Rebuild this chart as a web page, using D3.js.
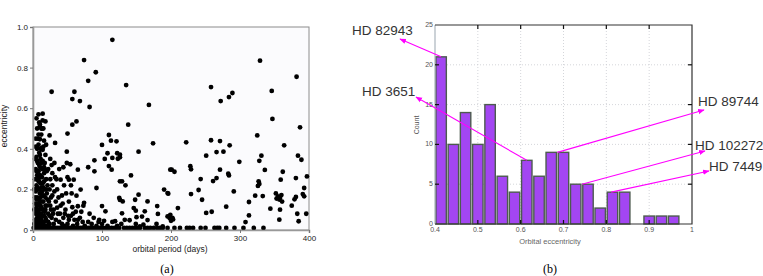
<!DOCTYPE html>
<html>
<head>
<meta charset="utf-8">
<script src="https://cdn.jsdelivr.net/npm/d3@7"></script>
<style>
  body { margin: 0; background: #fff; }
  svg { display: block; font-family: "Liberation Sans", Arial, sans-serif; }
</style>
</head>
<body>
<svg id="chart" width="763" height="276"></svg>
<script>
// (a) orbital period (days) vs eccentricity
var scatterPoints = [
  [115, 0.937], [74, 0.837], [91, 0.777], [80, 0.735], [135, 0.714], [27, 0.681],
  [60, 0.681], [57, 0.645], [68, 0.635], [168, 0.616], [82, 0.606], [14, 0.573],
  [18, 0.535], [63, 0.535], [57, 0.519], [138, 0.519], [10, 0.51], [13, 0.5],
  [329, 0.834], [382, 0.755], [258, 0.704], [346, 0.685], [289, 0.675], [284, 0.655],
  [272, 0.635], [347, 0.547], [387, 0.506], [325, 0.466], [222, 0.432], [258, 0.442],
  [271, 0.438], [285, 0.417], [364, 0.417], [266, 0.384], [276, 0.386], [251, 0.366],
  [331, 0.366], [384, 0.366], [389, 0.346], [328, 0.341], [299, 0.336], [228, 0.314],
  [229, 0.299], [201, 0.297], [205, 0.287], [336, 0.296], [271, 0.297], [362, 0.287],
  [283, 0.277], [284, 0.269], [266, 0.256], [261, 0.241], [243, 0.251], [381, 0.256],
  [397, 0.264], [359, 0.248], [327, 0.24], [328, 0.227], [326, 0.217], [240, 0.197],
  [291, 0.19], [393, 0.207], [196, 0.179], [229, 0.177], [322, 0.169], [333, 0.167],
  [352, 0.18], [355, 0.165], [353, 0.155], [357, 0.15], [360, 0.172], [361, 0.14],
  [358, 0.158], [391, 0.177], [393, 0.166], [379, 0.151], [381, 0.163], [375, 0.12],
  [245, 0.149], [313, 0.138], [280, 0.115], [344, 0.105], [358, 0.1], [210, 0.108],
  [259, 0.09], [251, 0.084], [313, 0.072], [383, 0.08], [396, 0.08], [199, 0.075],
  [202, 0.06], [198, 0.066], [203, 0.052], [200, 0.045], [308, 0.039], [357, 0.051],
  [385, 0.043], [213, 0.01], [223, 0.01], [227, 0.01], [232, 0.01], [243, 0.01],
  [250, 0.01], [263, 0.01], [267, 0.01], [270, 0.01], [280, 0.01], [292, 0.01],
  [305, 0.01], [320, 0.01], [334, 0.01],
  [110, 0.468], [50, 0.475], [24, 0.466], [113, 0.44], [121, 0.437], [10, 0.447],
  [32, 0.429], [100, 0.419], [174, 0.427], [11, 0.4], [13, 0.405], [14, 0.395],
  [49, 0.386], [153, 0.386], [108, 0.378], [122, 0.378], [126, 0.371], [126, 0.358],
  [123, 0.351], [104, 0.35], [115, 0.355], [89, 0.343], [49, 0.33], [44, 0.309],
  [54, 0.324], [80, 0.309], [89, 0.289], [110, 0.315], [114, 0.297], [65, 0.297],
  [142, 0.269], [199, 0.297], [40, 0.248], [52, 0.248], [59, 0.248], [55, 0.22],
  [126, 0.24], [129, 0.24], [134, 0.22], [92, 0.207], [69, 0.199], [190, 0.199],
  [195, 0.182], [153, 0.174], [63, 0.169], [125, 0.158], [126, 0.148], [130, 0.141],
  [148, 0.149], [166, 0.141], [74, 0.134], [73, 0.12], [65, 0.117], [57, 0.112],
  [100, 0.118], [146, 0.108], [149, 0.095], [180, 0.118], [162, 0.092], [129, 0.082],
  [105, 0.092], [181, 0.079], [195, 0.067], [198, 0.059], [96, 0.05], [103, 0.045],
  [119, 0.043], [133, 0.05], [140, 0.048], [150, 0.063], [158, 0.066], [166, 0.049],
  [46, 0.08], [51, 0.07], [65, 0.05], [72, 0.04], [149, 0.03], [155, 0.018],
  [160, 0.026], [179, 0.03], [188, 0.018],
  [5, 0.55], [8, 0.57], [10, 0.52], [6, 0.5], [12, 0.5], [15, 0.5], [9, 0.53],
  [14, 0.54], [7, 0.45], [4, 0.45], [8, 0.42], [12, 0.4], [6, 0.4], [15, 0.41],
  [9, 0.38], [5, 0.36], [11, 0.35], [14, 0.34], [7, 0.33], [10, 0.31], [13, 0.3],
  [4, 0.3], [8, 0.29], [16, 0.28], [6, 0.27], [11, 0.26], [3, 0.25], [9, 0.24],
  [14, 0.23], [5, 0.22], [12, 0.21], [7, 0.2], [17, 0.2], [4, 0.19], [10, 0.18],
  [15, 0.17], [6, 0.16], [8, 0.15], [13, 0.14], [3, 0.13], [11, 0.12], [18, 0.12],
  [5, 0.11], [9, 0.1], [14, 0.1], [7, 0.09], [4, 0.08], [12, 0.08], [16, 0.07],
  [6, 0.06], [10, 0.06], [3, 0.05], [8, 0.04], [13, 0.04], [5, 0.03], [11, 0.02],
  [3, 0.01], [7, 0.01], [15, 0.01], [20, 0.02], [19, 0.05], [22, 0.08], [18, 0.1],
  [21, 0.15], [20, 0.18], [24, 0.2], [19, 0.25], [22, 0.3], [17, 0.33], [18, 0.37],
  [25, 0.12], [27, 0.06], [26, 0.16], [28, 0.22], [30, 0.1], [30, 0.03], [33, 0.14],
  [35, 0.2], [32, 0.26], [36, 0.08], [38, 0.04], [40, 0.12], [42, 0.17], [44, 0.06],
  [47, 0.1], [50, 0.03], [52, 0.14], [55, 0.07], [58, 0.02], [60, 0.05], [62, 0.09],
  [25, 0.35], [28, 0.28], [31, 0.33], [3, 0.35], [2, 0.2], [2, 0.1], [2, 0.03],
  [34, 0.25], [38, 0.3], [45, 0.22], [48, 0.18], [43, 0.13], [37, 0.16], [56, 0.18],
  [50, 0.26], [16, 0.44], [12, 0.47], [19, 0.42], [17, 0.3], [20, 0.12],
  [6, 0.34], [9, 0.32], [12, 0.33], [16, 0.31], [5, 0.29], [10, 0.27], [13, 0.26],
  [7, 0.25], [16, 0.24], [11, 0.23], [6, 0.21], [9, 0.2], [13, 0.19], [18, 0.16],
  [11, 0.16], [5, 0.15], [15, 0.14], [8, 0.13], [12, 0.11], [16, 0.1], [6, 0.09],
  [10, 0.08], [14, 0.07], [18, 0.06], [7, 0.05], [12, 0.05], [16, 0.04], [22, 0.04],
  [9, 0.03], [14, 0.025], [18, 0.02], [24, 0.03], [26, 0.1], [23, 0.14], [28, 0.17],
  [25, 0.25], [21, 0.22], [29, 0.08], [33, 0.05], [35, 0.11], [39, 0.08], [42, 0.03],
  [24, 0.07], [31, 0.19], [27, 0.32], [10, 0.37], [4, 0.41], [8, 0.47], [3, 0.16],
  [4, 0.04], [6, 0.12], [8, 0.07], [10, 0.14], [13, 0.17], [15, 0.21], [8, 0.24],
  [19, 0.2], [17, 0.09], [20, 0.29],
  [45, 0.02], [52, 0.05], [58, 0.08], [64, 0.03], [68, 0.06], [75, 0.02], [80, 0.04],
  [85, 0.03], [88, 0.06], [92, 0.02], [70, 0.09], [82, 0.08], [95, 0.04], [100, 0.03],
  [108, 0.02], [115, 0.04], [122, 0.02], [128, 0.03],
  [1, 0.0], [4, 0.0], [9, 0.0], [13, 0.0], [18, 0.0], [24, 0.0], [30, 0.0], [36, 0.01],
  [42, 0.0], [48, 0.01], [54, 0.0], [60, 0.01], [66, 0.0], [72, 0.01], [78, 0.0],
  [84, 0.01], [90, 0.0], [96, 0.01], [102, 0.0], [110, 0.01], [118, 0.0], [125, 0.01],
  [132, 0.0], [140, 0.01], [148, 0.0], [155, 0.01], [162, 0.0], [170, 0.01], [180, 0.0],
  [188, 0.01], [195, 0.0], [205, 0.01], [7, 0.0], [21, 0.0], [27, 0.0], [33, 0.0],
  [39, 0.0], [45, 0.0], [51, 0.0], [57, 0.0], [63, 0.0], [69, 0.0], [75, 0.0],
  [81, 0.0], [87, 0.0], [93, 0.0], [99, 0.0], [106, 0.0], [114, 0.0], [121, 0.0],
  [136, 0.0], [144, 0.0], [151, 0.0], [166, 0.0], [175, 0.0], [184, 0.0]
];
var periodTicks = [0, 100, 200, 300, 400];
var eccTicks = [0, 0.2, 0.4, 0.6, 0.8, 1.0];

// (b) histogram of orbital eccentricity
var binStarts = [0.4, 0.4286, 0.4571, 0.4857, 0.5143, 0.5429, 0.5714, 0.6, 0.6286, 0.6571,
  0.6857, 0.7143, 0.7429, 0.7714, 0.8, 0.8286, 0.8571, 0.8857, 0.9143, 0.9429, 0.9714];
var binWidth = 0.02857;
var binCounts = [21, 10, 14, 10, 15, 6, 4, 8, 6, 9, 9, 5, 5, 2, 4, 4, 0, 1, 1, 1, 0];
var countTicks = [0, 5, 10, 15, 20, 25];
var histTicks = [0.4, 0.5, 0.6, 0.7, 0.8, 0.9, 1];

// which star points at which bar (bin start, count)
var starNames = ["HD 82943", "HD 3651", "HD 89744", "HD 102272", "HD 7449"];
var starBins = [0.4, 0.6, 0.6857, 0.7429, 0.8];
var starCounts = [21, 8, 9, 5, 4];

var svg = d3.select("#chart");

// ---------- panel (a) ----------
var x1 = d3.scaleLinear().domain([0, 400]).range([33, 309]);
var y1 = d3.scaleLinear().domain([0, 1]).range([230, 27]);

svg.append("rect")
  .attr("x", x1(0)).attr("y", y1(1))
  .attr("width", x1(400) - x1(0)).attr("height", y1(0) - y1(1))
  .attr("fill", "#fbfbfd").attr("stroke", "#8c8c8c").attr("stroke-width", 1);

svg.append("g").selectAll("circle")
  .data(scatterPoints)
  .join("circle")
  .attr("cx", d => x1(d[0]))
  .attr("cy", d => Math.min(y1(d[1]), y1(0) - 2))
  .attr("r", 2.4)
  .attr("fill", "#000");

var ax1 = svg.append("g")
  .attr("transform", "translate(0," + y1(0) + ")")
  .call(d3.axisBottom(x1).tickValues(periodTicks).tickSize(3).tickPadding(2));
var ay1 = svg.append("g")
  .attr("transform", "translate(" + x1(0) + ",0)")
  .call(d3.axisLeft(y1).tickValues(eccTicks).tickSize(3).tickPadding(2)
    .tickFormat(d => d === 0 ? "0" : d3.format(".1f")(d)));
[ax1, ay1].forEach(function (a) {
  a.select(".domain").attr("stroke", "#999").attr("stroke-width", 1.6);
  a.selectAll(".tick line").attr("stroke", "#777");
  a.selectAll("text").attr("font-size", 8).attr("fill", "#222")
    .attr("font-family", "Liberation Sans, Arial, sans-serif");
});

svg.append("text")
  .attr("x", 170).attr("y", 252)
  .attr("text-anchor", "middle").attr("font-size", 8.5).attr("fill", "#222")
  .text("orbital period (days)");
svg.append("text")
  .attr("transform", "translate(7,126) rotate(-90)")
  .attr("text-anchor", "middle").attr("font-size", 8.5).attr("fill", "#222")
  .text("eccentricity");
svg.append("text")
  .attr("x", 167).attr("y", 273)
  .attr("text-anchor", "middle").attr("font-size", 12)
  .attr("font-family", "Liberation Serif, Times New Roman, serif")
  .text("(a)");

// ---------- panel (b) ----------
var x2 = d3.scaleLinear().domain([0.4, 1]).range([435, 692]);
var y2 = d3.scaleLinear().domain([0, 25]).range([224, 25]);

var grid = svg.append("g").attr("stroke", "#c9ccd0").attr("stroke-dasharray", "1,2")
  .attr("stroke-width", 0.8);
grid.selectAll("line.h")
  .data(countTicks.slice(1, -1))
  .join("line").attr("class", "h")
  .attr("x1", x2(0.4)).attr("x2", x2(1))
  .attr("y1", d => y2(d)).attr("y2", d => y2(d));
grid.selectAll("line.v")
  .data(histTicks.slice(1, -1))
  .join("line").attr("class", "v")
  .attr("y1", y2(0)).attr("y2", y2(25))
  .attr("x1", d => x2(d)).attr("x2", d => x2(d));

svg.append("g").selectAll("rect")
  .data(binStarts.map((b, i) => ({ start: b, count: binCounts[i] })).filter(d => d.count > 0))
  .join("rect")
  .attr("x", d => x2(d.start) + 0.9)
  .attr("width", d => x2(d.start + binWidth) - x2(d.start) - 1.8)
  .attr("y", d => y2(d.count))
  .attr("height", d => y2(0) - y2(d.count))
  .attr("fill", "#a346f2")
  .attr("stroke", "#4d5b4f")
  .attr("stroke-width", 1.4);

// frame: light left side, dark top / right / bottom
svg.append("line")
  .attr("x1", x2(0.4)).attr("x2", x2(0.4)).attr("y1", y2(0)).attr("y2", y2(25))
  .attr("stroke", "#aab4bd").attr("stroke-width", 1.2);
svg.append("path")
  .attr("d", "M" + x2(0.4) + "," + y2(25) + "H" + x2(1) + "V" + y2(0) + "H" + x2(0.4))
  .attr("fill", "none").attr("stroke", "#333").attr("stroke-width", 1.2);

// inward tick marks on all four sides
var tk = svg.append("g").attr("stroke", "#111").attr("stroke-width", 1.2);
histTicks.slice(1, -1).forEach(function (t) {
  tk.append("line").attr("x1", x2(t)).attr("x2", x2(t)).attr("y1", y2(0)).attr("y2", y2(0) - 4);
  tk.append("line").attr("x1", x2(t)).attr("x2", x2(t)).attr("y1", y2(25)).attr("y2", y2(25) + 4);
});
countTicks.slice(1, -1).forEach(function (t) {
  tk.append("line").attr("x1", x2(0.4)).attr("x2", x2(0.4) + 4).attr("y1", y2(t)).attr("y2", y2(t));
  tk.append("line").attr("x1", x2(1)).attr("x2", x2(1) - 4).attr("y1", y2(t)).attr("y2", y2(t));
});

svg.append("g").selectAll("text")
  .data(histTicks)
  .join("text")
  .attr("x", d => x2(d)).attr("y", y2(0) + 8)
  .attr("text-anchor", "middle").attr("font-size", 7).attr("fill", "#555")
  .text(d => d === 1 ? "1" : d3.format(".1f")(d));
svg.append("g").selectAll("text")
  .data(countTicks)
  .join("text")
  .attr("x", x2(0.4) - 2).attr("y", d => y2(d) + 2)
  .attr("text-anchor", "end").attr("font-size", 7).attr("fill", "#555")
  .text(d => d);

svg.append("text")
  .attr("x", 550).attr("y", 244)
  .attr("text-anchor", "middle").attr("font-size", 7.5).attr("fill", "#666")
  .text("Orbital eccentricity");
svg.append("text")
  .attr("transform", "translate(419,125) rotate(-90)")
  .attr("text-anchor", "middle").attr("font-size", 7).attr("fill", "#555")
  .text("Count");
svg.append("text")
  .attr("x", 550).attr("y", 273)
  .attr("text-anchor", "middle").attr("font-size", 12)
  .attr("font-family", "Liberation Serif, Times New Roman, serif")
  .text("(b)");

// ---------- annotations ----------
svg.append("defs").append("marker")
  .attr("id", "head").attr("viewBox", "0 0 10 10")
  .attr("refX", 9).attr("refY", 5)
  .attr("markerWidth", 6).attr("markerHeight", 6)
  .attr("orient", "auto")
  .append("path").attr("d", "M0,1 L10,5 L0,9 Z").attr("fill", "#ff00ff");

// label anchor (text left, baseline) and arrow tip, per star
var labelPos = [[352, 35], [362, 96], [698, 106], [695, 150], [709, 171]];
var tipPos = [[400, 39], [416, 97], [704, 110], [705, 151], [709, 171]];
var tailShift = [0.5, 0.5, 0, 0, 0.4]; // fraction across the bar

starNames.forEach(function (name, i) {
  var bx = x2(starBins[i] + binWidth * tailShift[i]);
  var by = y2(starCounts[i]);
  svg.append("line")
    .attr("x1", bx).attr("y1", by)
    .attr("x2", tipPos[i][0]).attr("y2", tipPos[i][1])
    .attr("stroke", "#ff00ff").attr("stroke-width", 1.1)
    .attr("marker-end", "url(#head)");
  svg.append("text")
    .attr("x", labelPos[i][0]).attr("y", labelPos[i][1])
    .attr("font-size", 13.5).attr("fill", "#333")
    .text(name);
});
</script>
</body>
</html>
